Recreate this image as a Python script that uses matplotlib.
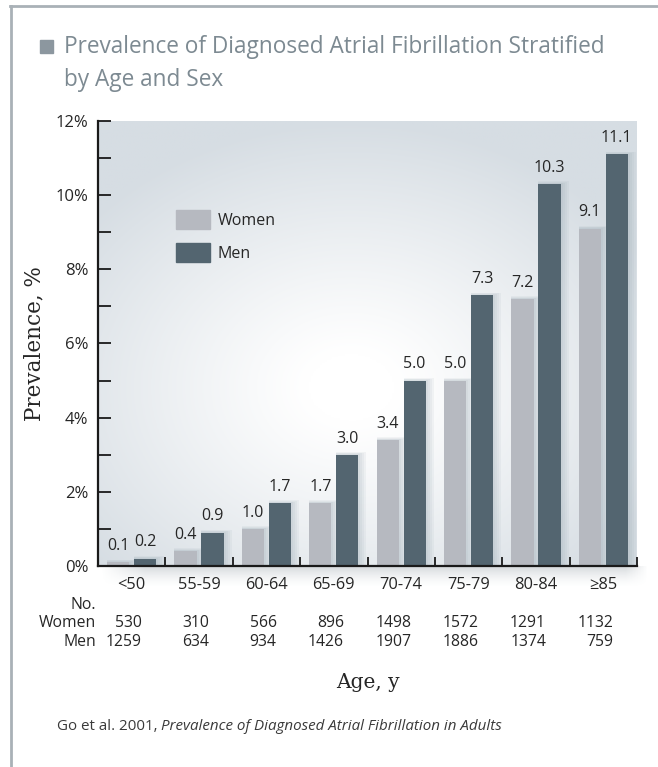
import numpy as np
import matplotlib
matplotlib.use('Agg')
import matplotlib.pyplot as plt
from matplotlib.patches import Rectangle
from matplotlib.lines import Line2D
from matplotlib.colors import to_rgb

AGE_GROUPS = ['<50', '55-59', '60-64', '65-69', '70-74', '75-79', '80-84', '≥85']
WOMEN_PCT = [0.1, 0.4, 1.0, 1.7, 3.4, 5.0, 7.2, 9.1]
MEN_PCT = [0.2, 0.9, 1.7, 3.0, 5.0, 7.3, 10.3, 11.1]
WOMEN_N = [530, 310, 566, 896, 1498, 1572, 1291, 1132]
MEN_N = [1259, 634, 934, 1426, 1907, 1886, 1374, 759]

WOMEN_COL = '#b6b9c0'
MEN_COL = '#536570'
TXT = '#262626'
TITLE_COL = '#7d8a92'
FRAME_COL = '#a9b1b7'

W, H = 658, 767
plt.rcParams['font.family'] = ['Open Sans', 'DejaVu Sans']

fig = plt.figure(figsize=(W / 100, H / 100), dpi=100)
fig.patch.set_facecolor('white')

# page frame (top + left rule)
fig.add_artist(Line2D([10 / W, 1], [1 - 6 / H] * 2, color=FRAME_COL, lw=2,
                      transform=fig.transFigure))
fig.add_artist(Line2D([11 / W] * 2, [0, 1 - 6 / H], color=FRAME_COL, lw=2,
                      transform=fig.transFigure))

# title block
fig.add_artist(Rectangle((40 / W, 1 - 53 / H), 13 / W, 13 / H, color='#8c979f',
                         transform=fig.transFigure))
fig.text(64 / W, 1 - 47 / H, 'Prevalence of Diagnosed Atrial Fibrillation Stratified',
         fontsize=16.3, color=TITLE_COL, va='center', ha='left')
fig.text(64 / W, 1 - 80 / H, 'by Age and Sex',
         fontsize=16.3, color=TITLE_COL, va='center', ha='left')

ax_l, ax_r, ax_t, ax_b = 98, 637, 121, 566
ax = fig.add_axes([ax_l / W, 1 - ax_b / H, (ax_r - ax_l) / W, (ax_b - ax_t) / H])

# soft shadow band under the axis box
sh = fig.add_axes([(ax_l + 2) / W, 1 - (ax_b + 22) / H, (ax_r - ax_l + 10) / W, 22 / H],
                  zorder=0)
sh.axis('off')
gy = np.linspace(0, 1, 40)[:, None]
gx = np.linspace(0, 1, 200)[None, :]
alpha = (1 - gy) ** 1.6 * 0.35 * np.clip(np.minimum(gx / 0.08, (1 - gx) / 0.04), 0, 1)
rgba = np.zeros((40, 200, 4))
rgba[..., :3] = to_rgb('#7f8c95')
rgba[..., 3] = alpha
sh.imshow(rgba, aspect='auto', extent=(0, 1, 0, 1), origin='upper')
ax.set_zorder(1)

x = np.arange(len(AGE_GROUPS))
ax.set_xlim(-0.5, len(AGE_GROUPS) - 0.5)
ax.set_ylim(0, 12)

# radial background gradient
gxx, gyy = np.meshgrid(np.linspace(0, 1, 300), np.linspace(0, 1, 300))
d = np.sqrt(((gxx - 0.47) / 1.0) ** 2 + ((gyy - 0.40) / 0.95) ** 2)
t = np.clip((d - 0.08) / 0.55, 0, 1) ** 1.1
c_in = np.array(to_rgb('#ffffff'))
c_out = np.array(to_rgb('#d6dde3'))
bg = c_in[None, None, :] * (1 - t[..., None]) + c_out[None, None, :] * t[..., None]
ax.imshow(bg, extent=(-0.5, len(AGE_GROUPS) - 0.5, 0, 12), origin='lower',
          aspect='auto', zorder=0)

bw = 0.33
off = 0.2
for vals, col, sgn in ((WOMEN_PCT, WOMEN_COL, -1), (MEN_PCT, MEN_COL, 1)):
    xs = x + sgn * off
    # soft shadow falling to the right of each bar
    for k in range(4):
        pad = 0.03 + 0.03 * k
        for xi, v in zip(xs, vals):
            ax.add_patch(Rectangle((xi - bw / 2, 0), bw + pad, v + pad * 0.6,
                                   color='#8ea0ab', alpha=0.09, lw=0, zorder=1))
    ax.bar(xs, vals, width=bw, color=col, zorder=2, lw=0)
    for xi, v in zip(xs, vals):
        ax.text(xi, v + 0.22, f'{v:.1f}', ha='center', va='bottom',
                fontsize=11.5, color=TXT, zorder=3)

# axes styling
for s in ('top', 'right'):
    ax.spines[s].set_visible(False)
for s in ('left', 'bottom'):
    ax.spines[s].set_color('#1a1a1a')
    ax.spines[s].set_linewidth(1.6)
    ax.spines[s].set_zorder(4)

ax.set_yticks(np.arange(0, 13, 2))
ax.set_yticklabels([f'{v}%' for v in range(0, 13, 2)])
ax.set_yticks(np.arange(1, 12, 2), minor=True)
ax.tick_params(axis='y', which='both', direction='in', length=9.4, width=1.3,
               color='#1a1a1a', labelsize=12, labelcolor=TXT, pad=7)

ax.set_xticks(x)
ax.set_xticklabels(AGE_GROUPS)
ax.set_xticks(np.arange(0.5, len(AGE_GROUPS)), minor=True)
ax.tick_params(axis='x', which='major', length=0, labelsize=11.8,
               labelcolor=TXT, pad=8)
ax.tick_params(axis='x', which='minor', direction='in', length=6.5, width=1.3,
               color='#1a1a1a')

ax.set_ylabel('Prevalence, %', family='DejaVu Serif', fontsize=15.5, color=TXT,
              labelpad=7)

# legend
leg = ax.legend(handles=[Rectangle((0, 0), 1, 1, color=WOMEN_COL),
                         Rectangle((0, 0), 1, 1, color=MEN_COL)],
                labels=['Women', 'Men'], loc='upper left',
                bbox_to_anchor=((176 - ax_l) / (ax_r - ax_l), (ax_b - 210) / (ax_b - ax_t)),
                frameon=False, borderpad=0, borderaxespad=0, fontsize=11.5,
                handlelength=2.1, handleheight=1.45, handletextpad=0.5,
                labelspacing=0.9)
for txt in leg.get_texts():
    txt.set_color(TXT)

# counts table under the axis
def fig_y(py):
    return 1 - py / H

trans = matplotlib.transforms.blended_transform_factory(ax.transData, fig.transFigure)
fig.text(96 / W, fig_y(605), 'No.', ha='right', va='center', fontsize=11.3, color=TXT)
fig.text(96 / W, fig_y(623), 'Women', ha='right', va='center', fontsize=11.3, color=TXT)
fig.text(96 / W, fig_y(642), 'Men', ha='right', va='center', fontsize=11.3, color=TXT)
for xi, nw, nm in zip(x, WOMEN_N, MEN_N):
    ax.text(xi + 0.15, fig_y(623), str(nw), transform=trans, ha='right',
            va='center', fontsize=11.3, color=TXT, clip_on=False)
    ax.text(xi + 0.15, fig_y(642), str(nm), transform=trans, ha='right',
            va='center', fontsize=11.3, color=TXT, clip_on=False)

fig.text((ax_l + ax_r) / 2 / W, fig_y(682), 'Age, y', family='DejaVu Serif',
         fontsize=14.5, color=TXT, ha='center', va='center')

fig.text(57 / W, fig_y(727), 'Go et al. 2001, ', fontsize=10.9, color='#3a3a3a',
         ha='left', va='center')
src = fig.texts[-1]
fig.canvas.draw()
bb = src.get_window_extent()
fig.text(bb.x1 / W, fig_y(727), 'Prevalence of Diagnosed Atrial Fibrillation in Adults',
         fontsize=10.9, style='italic', color='#3a3a3a', ha='left', va='center')

fig.savefig('out.png', dpi=100)
